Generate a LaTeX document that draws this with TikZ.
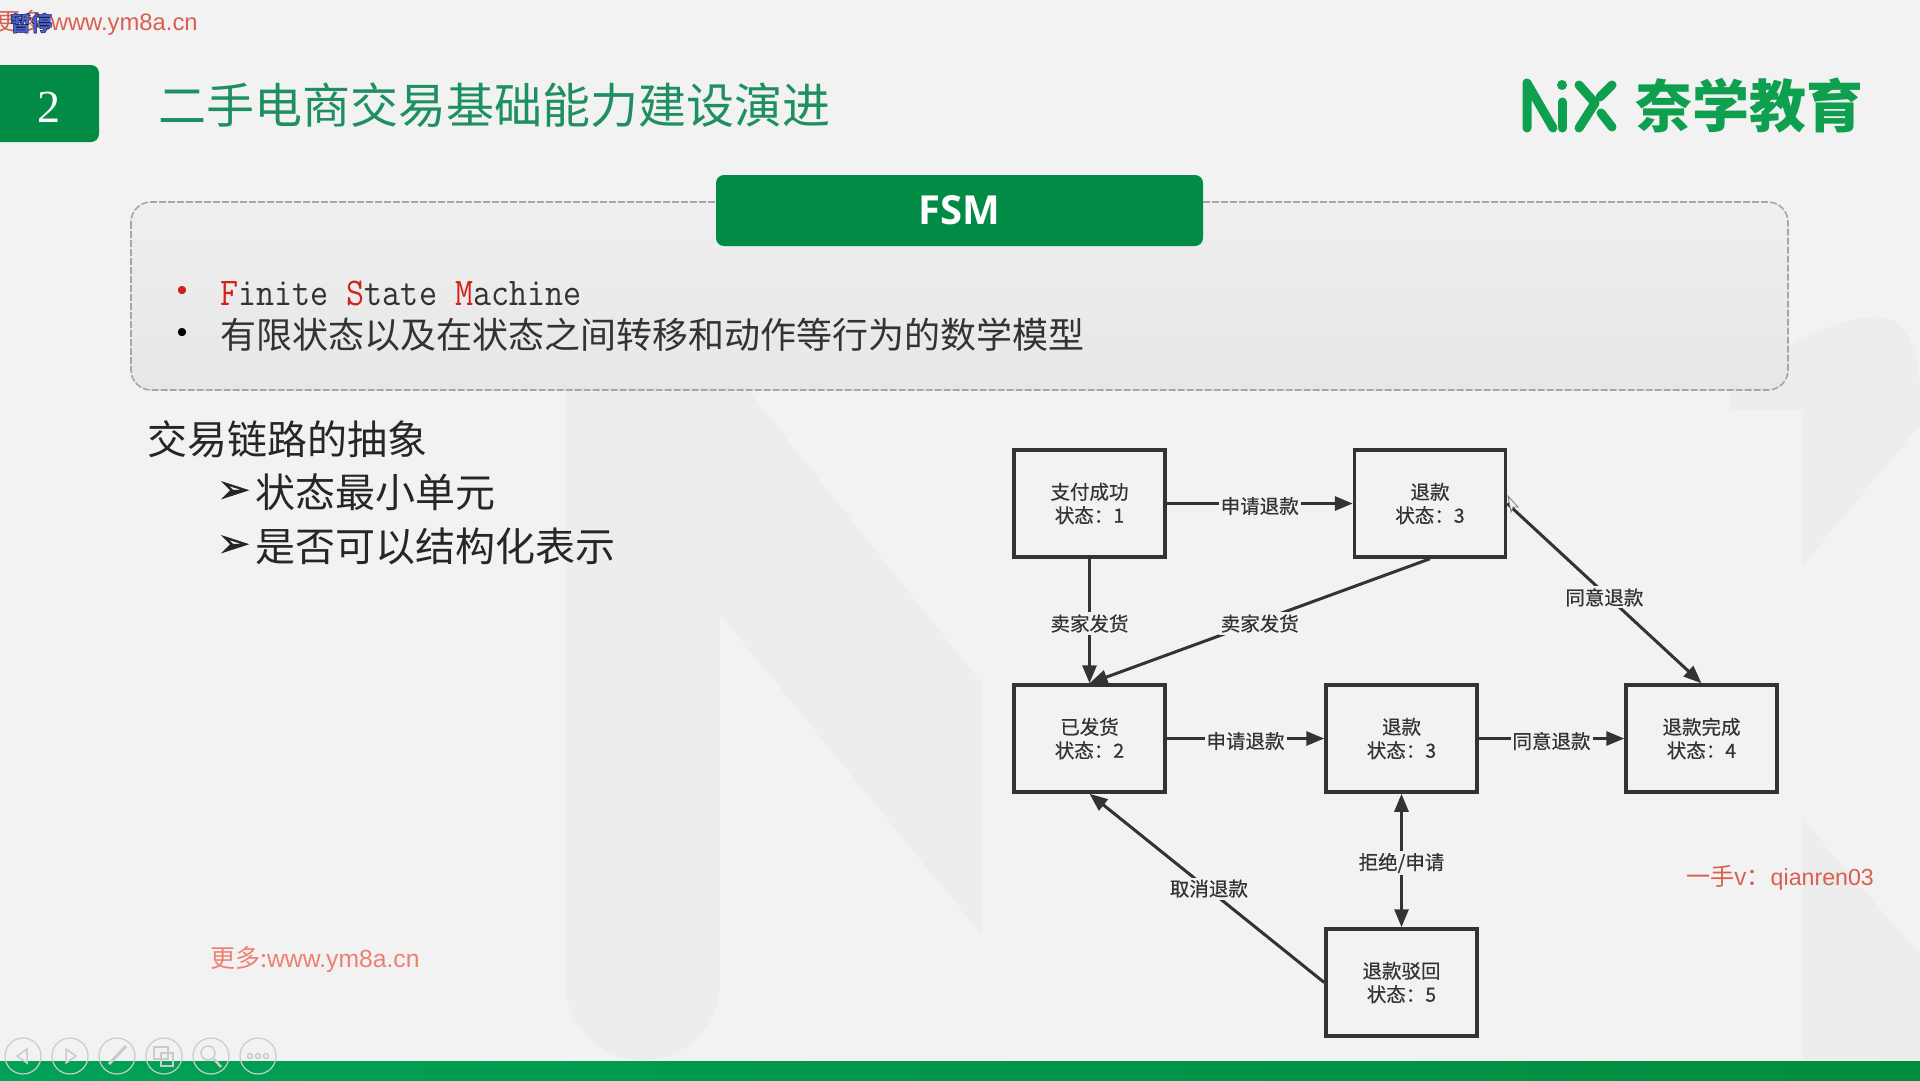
\documentclass[tikz,border=0pt]{standalone}
\usepackage{fontspec}
\usepackage{graphicx}
\usetikzlibrary{arrows.meta}
\setmainfont{Noto Sans CJK SC}
\newfontfamily\semi[FakeBold=0.5]{Noto Sans CJK SC}
\newfontfamily\lat{Liberation Sans}
\newfontfamily\ser{Liberation Serif}
\newfontfamily\sym[FakeBold=2]{DejaVu Sans}
\newfontfamily\opens{Open Sans}
\newcommand{\fsz}[1]{\fontsize{#1}{#1}\selectfont}
\definecolor{bg}{HTML}{F2F2F2}
\definecolor{wm}{HTML}{ECEDEC}
\definecolor{gr}{HTML}{028B45}
\definecolor{logo}{HTML}{0FA04F}
\definecolor{ttl}{HTML}{1E8F60}
\definecolor{dk}{HTML}{333333}
\definecolor{wmred}{HTML}{D95F50}
\definecolor{wmred2}{HTML}{EE8072}
\definecolor{navc}{HTML}{C9CCCB}
\definecolor{barL}{HTML}{00A257}
\definecolor{barR}{HTML}{008C3E}
\definecolor{panelT}{HTML}{EFEFEF}
\definecolor{panelB}{HTML}{E7E7E7}
\definecolor{pauseblue}{HTML}{4664D7}
\definecolor{redtxt}{HTML}{D2231A}
\tikzset{
  statebox/.style={draw=dk,line width=3.5pt,fill=bg,minimum width=151pt,minimum height=107pt,align=center,text=dk,inner sep=0pt,font=\semi\fontsize{19.5}{23.5}\selectfont},
  edge/.style={draw=dk,line width=3pt,-{Triangle[length=18pt,width=14pt]}},
  lab/.style={fill=bg,text=dk,inner sep=2pt,yshift=-2.5pt,font=\semi\fsz{19.5}},
  navbtn/.style={draw=navc,line width=1.2pt,circle,minimum size=36pt,inner sep=0pt},
  navicon/.style={draw=navc,line width=1.5pt},
  logoline/.style={draw=logo,line width=9pt,line cap=round,line join=round},
  tx/.style={inner sep=0pt,anchor=west},
}
\begin{document}
\begin{tikzpicture}[x=1pt,y=-1pt]
\useasboundingbox (0,0) rectangle (1920,1080);
\clip (0,0) rectangle (1920,1080);
\fill[bg] (0,0) rectangle (1920,1080);
% watermark
\fill[wm] (566,330) -- (700,330) -- (982,684) -- (982,935) -- (720,614) -- (720,983) arc[start angle=0,end angle=180,radius=77] -- cycle;
\fill[wm] (1730,395) .. controls (1780,340) and (1840,317) .. (1880,317) .. controls (1900,317) and (1920,340) .. (1920,400) -- (1920,425) -- (1803,565) -- (1803,410) -- (1730,410) -- cycle;
\fill[wm] (1803,820) -- (1920,955) -- (1920,1060) -- (1803,1060) -- cycle;
% footer
\shade[left color=barL,right color=barR] (0,1061) rectangle (1920,1080);
% header
\fill[gr,rounded corners=8pt] (-20,65) rectangle (99,142);
\node[text=white,inner sep=0pt] (num) at (49,107) {\ser\fsz{46}2};
\node[tx,text=ttl] (title) at (158,105) {\fsz{48}二手电商交易基础能力建设演进};
% logo
\draw[logoline] (1527,128) -- (1527,83) -- (1553,128);
\fill[logo] (1562,85) circle (5pt);
\draw[logoline] (1562,102) -- (1562,128);
\draw[logoline] (1579,85) -- (1595,103) -- (1579,128);
\draw[logoline] (1612,85) -- (1600,97);
\draw[logoline] (1601,113) -- (1612,127);
\node[tx,text=logo] (logotext) at (1635,105) {\fsz{57}\bfseries 奈学教育};
% top-left watermark text
\node[tx,text=wmred] (wmtop) at (-4,23) {\fsz{24}更多:\lat\fsz{23.8}www.ym8a.cn};
\node[tx,text=pauseblue] (pause) at (10,23) {\fsz{21}\bfseries\special{pdf:code q 2 Tr 0.5 w 0.12 0.12 0.25 RG}暂停\special{pdf:code Q}};
% FSM panel
\path[top color=panelT,bottom color=panelB,draw=gray!70,line width=1.6pt,dash pattern=on 7pt off 2pt,rounded corners=20pt] (131,202) rectangle (1788,390);
\node[fill=gr,rounded corners=8pt,minimum width=487pt,minimum height=71pt,text=white,inner sep=0pt,font=\opens\bfseries\fsz{40}] (fsm) at (959.5,210.5) {FSM};
\node[text=redtxt,inner sep=0pt] (b1dot) at (182,293) {\lat\fsz{30}•};
\node[tx,text=dk] (fsmname) at (220,293) {\scalebox{1}[1.12]{\ttfamily\fsz{35.1}\textcolor{redtxt}{F}inite \textcolor{redtxt}{S}tate \textcolor{redtxt}{M}achine}};
\node[text=black,inner sep=0pt] (b2dot) at (182,335) {\lat\fsz{30}•};
\node[tx,text=dk] (fsmdef) at (220,335) {\fsz{36}有限状态以及在状态之间转移和动作等行为的数学模型};
% left text
\node[tx,text=black!85] (lead) at (147,439) {\fsz{40}交易链路的抽象};
\node[text=black!85,inner sep=0pt] (ar1) at (234,492) {\sym\fsz{38}➢};
\node[tx,text=black!85] (it1) at (255,492) {\fsz{40}状态最小单元};
\node[text=black!85,inner sep=0pt] (ar2) at (234,546) {\sym\fsz{38}➢};
\node[tx,text=black!85] (it2) at (255,546) {\fsz{40}是否可以结构化表示};
\node[tx,text=wmred2] (wmlow) at (210,960) {\fsz{25}更多:\lat\fsz{24.7}www.ym8a.cn};
\node[tx,text=wmred] (wmv) at (1686,878) {\fsz{24}一手v：\lat\fsz{23.2}qianren03};
% state diagram
\node[statebox] (paid) at (1089.5,503.5) {支付成功\\状态：1};
\node[statebox] (refA) at (1430,503.5) {退款\\状态：3};
\node[statebox] (ship) at (1089.5,738.5) {已发货\\状态：2};
\node[statebox] (refB) at (1401.5,738.5) {退款\\状态：3};
\node[statebox] (done) at (1701.5,738.5) {退款完成\\状态：4};
\node[statebox] (rej) at (1401.5,982.5) {退款驳回\\状态：5};
\draw[edge] (paid.east) -- node[lab] (l1) {申请退款} (refA.west);
\draw[edge] (paid.south) -- node[lab] (l2) {卖家发货} (ship.north);
\draw[edge] (refA.south) -- node[lab] (l3) {卖家发货} (ship.north);
\draw[edge] (refA.east) -- node[lab,yshift=-1.5pt] (l4) {同意退款} (done.north);
\draw[edge] (ship.east) -- node[lab] (l5) {申请退款} (refB.west);
\draw[edge] (refB.east) -- node[lab] (l6) {同意退款} (done.west);
\draw[edge,{Triangle[length=18pt,width=14pt]}-{Triangle[length=18pt,width=14pt]}] (refB.south) -- node[lab] (l7) {拒绝/申请} (rej.north);
\draw[edge] (rej.west) -- node[lab,xshift=2pt,yshift=2pt] (l8) {取消退款} (ship.south);
% cursor
\draw[gray,fill=bg,line width=.8pt] (1508,496) -- (1518,507) -- (1513,507) -- (1511,512) -- cycle;
% slide-show buttons
\foreach \n/\cx in {a/23,b/70,c/117,d/164,e/211,f/258} \node[navbtn] (nav\n) at (\cx,1056) {};
\draw[navicon] (nava.center)+(4,-7) -- +(-6,0) -- +(4,7) -- cycle;
\draw[navicon] (navb.center)+(-4,-7) -- +(6,0) -- +(-4,7) -- cycle;
\draw[navicon,line width=3pt] (navc.center)+(-8,8) -- +(9,-10);
\draw[navicon] (navd.center)+(-10,-9) rectangle +(4,3);
\draw[navicon] (navd.center)+(-3,-3) rectangle +(9,10);
\draw[navicon] (nave.center)+(-3,-3) circle (7pt);
\draw[navicon,line width=2.5pt] (nave.center)+(3,3) -- +(10,11);
\foreach \dx in {-8,0,8} \draw[navicon] (navf.center)+(\dx,0) circle (2.5pt);
\end{tikzpicture}
\end{document}
